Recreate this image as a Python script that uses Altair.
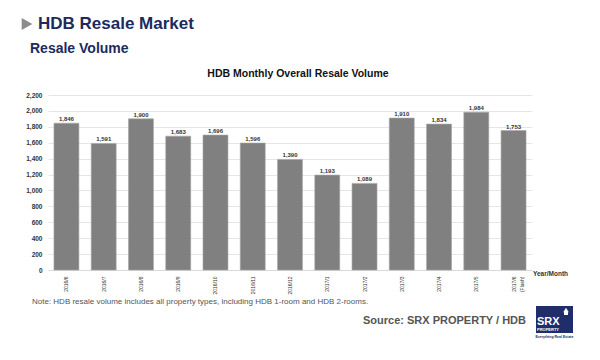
import altair as alt
import pandas as pd

months = ["2016/6", "2016/7", "2016/8", "2016/9", "2016/10", "2016/11", "2016/12",
          "2017/1", "2017/2", "2017/3", "2017/4", "2017/5", "2017/6 (Flash)"]
volumes = [1846, 1591, 1900, 1683, 1696, 1596, 1390, 1193, 1089, 1910, 1834, 1984, 1753]
y_ticks = [0, 200, 400, 600, 800, 1000, 1200, 1400, 1600, 1800, 2000, 2200]

FONT = "Liberation Sans"
NAVY = "#1c2a5e"

df = pd.DataFrame({"month": months, "volume": volumes})

x_enc = alt.X("month:N", sort=None, title=None,
              scale=alt.Scale(paddingInner=0.33, paddingOuter=0.16),
              axis=alt.Axis(labelAngle=270, labelFontSize=5, labelFont=FONT,
                            labelColor="#333333", labelPadding=6, ticks=False,
                            domainColor="#d9d9d9", labelExpr="split(datum.label, ' ')",
                            labelLineHeight=8, labelOverlap=False))
y_enc = alt.Y("volume:Q", title=None,
              scale=alt.Scale(domain=[0, 2200], nice=False),
              axis=alt.Axis(values=y_ticks, tickCount=12, labelExpr="format(datum.value, ',')",
                            labelOverlap=False, labelFontSize=6.5, labelFont=FONT,
                            labelFontWeight="bold", labelColor="#333333", domain=False,
                            ticks=False, labelPadding=6, gridColor="#e6e6e6"))

base = alt.Chart(df)
bars = base.mark_bar(color="#808080", stroke="#a6a6a6", strokeWidth=0.6).encode(x=x_enc, y=y_enc)
labels = base.mark_text(dy=-4, baseline="middle", fontSize=6, fontWeight="bold",
                        font=FONT, color="#333333").encode(
    x=x_enc, y=y_enc, text=alt.Text("volume:Q", format=","))

one = pd.DataFrame({"k": [0]})


def txt(s, x, y, size, color, weight="bold", align="left"):
    return alt.Chart(one).mark_text(align=align, baseline="middle", fontSize=size,
                                    fontWeight=weight, font=FONT, color=color).encode(
        x=alt.value(x), y=alt.value(y), text=alt.value(s))


arrow = alt.Chart(one).mark_point(shape="triangle-right", filled=True, size=150,
                                  color="#8c8c8c", opacity=1).encode(
    x=alt.value(-21), y=alt.value(-71))
header = txt("HDB Resale Market", -10, -71, 17, NAVY)
sub = txt("Resale Volume", -18, -46, 14, NAVY)
title = txt("HDB Monthly Overall Resale Volume", 250, -21, 10.5, "#111111", align="center")
ym = txt("Year/Month", 485, 179, 6.5, "#333333")
note = txt("Note: HDB resale volume includes all property types, including HDB 1-room and HDB 2-rooms.",
           -16, 207, 8, "#555555", weight="normal")
source = txt("Source:  SRX PROPERTY / HDB", 478, 226, 11, "#555555", align="right")

logo_box = alt.Chart(one).mark_rect(color="#1f2d6b").encode(
    x=alt.value(488), x2=alt.value(525), y=alt.value(211), y2=alt.value(238))
roof = alt.Chart(one).mark_point(shape="triangle-up", filled=True, size=30, color="white",
                                 opacity=1).encode(x=alt.value(518), y=alt.value(215))
house = alt.Chart(one).mark_rect(color="white").encode(
    x=alt.value(516), x2=alt.value(520), y=alt.value(216), y2=alt.value(220))
srx = alt.Chart(one).mark_text(align="left", baseline="alphabetic", fontSize=11,
                               fontWeight="bold", font=FONT, color="white").encode(
    x=alt.value(489), y=alt.value(230), text=alt.value("SRX"))
prop = alt.Chart(one).mark_text(align="left", baseline="middle", fontSize=4,
                                fontWeight="bold", font=FONT, color="white").encode(
    x=alt.value(489), y=alt.value(234.5), text=alt.value("PROPERTY"))
tag = alt.Chart(one).mark_text(align="center", baseline="middle", fontSize=3.5,
                               fontWeight="bold", font=FONT, color=NAVY).encode(
    x=alt.value(506.5), y=alt.value(242), text=alt.value("Everything Real Estate"))

chart = alt.layer(bars, labels, arrow, header, sub, title, ym, note, source,
                  logo_box, roof, house, srx, prop, tag).properties(
    width=484, height=175,
    autosize=alt.AutoSizeParams(type="none"),
    padding={"left": 40, "top": 87, "right": 60, "bottom": 82},
    background="white",
).configure_view(stroke=None)

chart.save("out.html", embed_options={"renderer": "svg", "actions": False})
